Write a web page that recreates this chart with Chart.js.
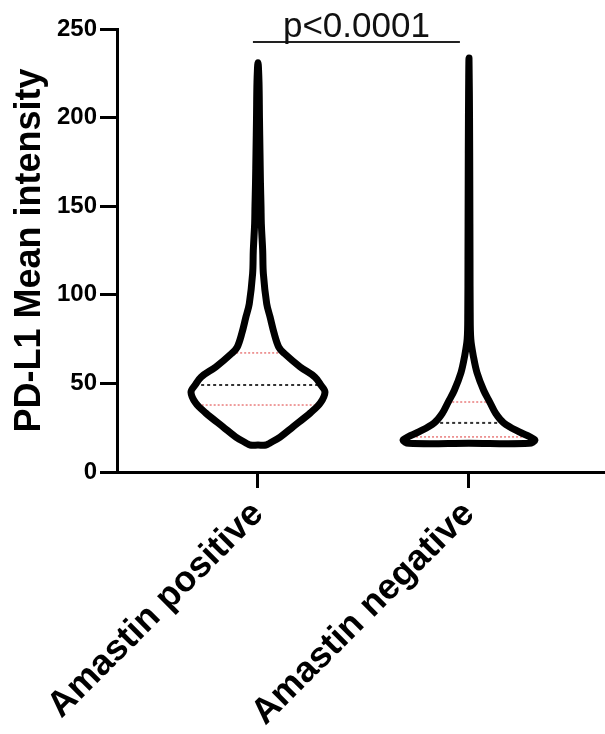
<!DOCTYPE html>
<html><head><meta charset="utf-8">
<script src="https://cdn.jsdelivr.net/npm/chart.js@4.4.0/dist/chart.umd.min.js"></script>
<style>html,body{margin:0;padding:0;background:#fff}canvas{display:block}</style>
</head><body>
<canvas id="c" width="605" height="734"></canvas>
<script>
// ---- data ----
const categories = ['Amastin positive', 'Amastin negative'];
const yTicks = [0, 50, 100, 150, 200, 250];
// violin outline: values (PD-L1) and relative density (half-width, max = 1)
const posValues  = [15.2, 16.4, 19.7, 25.4, 33.3, 38.9, 45.1, 49, 53.6, 59.3, 67, 70.5, 78.4, 87.5, 95, 112, 125, 140, 150, 163, 180, 200, 220, 231];
const posDensity = [0.12, 0.18, 0.33, 0.52, 0.78, 0.93, 1.0, 0.94, 0.85, 0.63, 0.39, 0.31, 0.24, 0.18, 0.13, 0.08, 0.07, 0.05, 0.045, 0.037, 0.03, 0.022, 0.015, 0];
const negValues  = [16.2, 18, 19.8, 22.6, 27.7, 33, 39.5, 46, 56, 65, 75, 90, 120, 160, 200, 233.6];
const negDensity = [0.9, 0.985, 0.91, 0.75, 0.52, 0.4, 0.31, 0.22, 0.12, 0.067, 0.027, 0.018, 0.015, 0.012, 0.008, 0];
// quartiles: Q1, median, Q3
const posQuartiles = [37.8, 49.1, 67.2];
const negQuartiles = [19.8, 27.7, 39.5];
const pValueLabel = 'p<0.0001';
const sigBarValue = 242.7;

// ---- layout constants ----
const FONT = '"Liberation Sans", Arial, Helvetica, sans-serif';
const HALF_W = 0.3175;         // max half width in category units
const SIG_FROM = 0.976, SIG_TO = 1.957;

function outline(center, vals, dens) {
  const pts = [{x: center, y: vals[0]}];
  for (let i = 0; i < vals.length; i++) pts.push({x: center - dens[i] * HALF_W, y: vals[i]});
  for (let i = vals.length - 2; i >= 0; i--) pts.push({x: center + dens[i] * HALF_W, y: vals[i]});
  pts.push({x: center, y: vals[0]});
  return pts;
}
function densAt(vals, dens, v) {
  for (let i = 0; i < vals.length - 1; i++) {
    if (v >= vals[i] && v <= vals[i + 1]) {
      const t = (v - vals[i]) / (vals[i + 1] - vals[i]);
      return dens[i] + t * (dens[i + 1] - dens[i]);
    }
  }
  return 0;
}
function qLine(center, vals, dens, v) {
  const hw = densAt(vals, dens, v) * HALF_W;
  return [{x: center - hw, y: v}, {x: center + hw, y: v}];
}

const groups = [
  {center: 1, vals: posValues, dens: posDensity, q: posQuartiles},
  {center: 2, vals: negValues, dens: negDensity, q: negQuartiles}
];

const datasets = [];
groups.forEach(g => {
  datasets.push({data: outline(g.center, g.vals, g.dens), borderColor: '#000', borderWidth: 7,
    tension: 0.35, borderJoinStyle: 'round', borderCapStyle: 'round', pointRadius: 0, showLine: true, clip: false});
});
groups.forEach(g => {
  datasets.push({data: qLine(g.center, g.vals, g.dens, g.q[1]), borderColor: '#333', borderWidth: 2,
    borderDash: [3, 3], pointRadius: 0, showLine: true});
  [g.q[0], g.q[2]].forEach(v => datasets.push({data: qLine(g.center, g.vals, g.dens, v),
    borderColor: 'rgba(225,80,80,0.75)', borderWidth: 1.5, borderDash: [2, 2], pointRadius: 0, showLine: true}));
});
datasets.push({data: [{x: SIG_FROM, y: sigBarValue}, {x: SIG_TO, y: sigBarValue}], borderColor: '#222',
  borderWidth: 2, pointRadius: 0, showLine: true, clip: false});

const sigText = {
  id: 'sigText',
  afterDatasetsDraw(chart) {
    const {ctx, scales: {x, y}} = chart;
    ctx.save();
    ctx.font = '35px ' + FONT;
    ctx.fillStyle = '#111';
    ctx.textAlign = 'center';
    ctx.textBaseline = 'alphabetic';
    ctx.fillText(pValueLabel, x.getPixelForValue((SIG_FROM + SIG_TO) / 2), y.getPixelForValue(sigBarValue) - 5);
    ctx.restore();
  }
};

new Chart(document.getElementById('c'), {
  type: 'scatter',
  data: {datasets},
  options: {
    responsive: false, animation: false, devicePixelRatio: 1,
    layout: {padding: {left: 0, top: 29, right: 0, bottom: 0}},
    plugins: {legend: {display: false}, tooltip: {enabled: false}},
    scales: {
      x: {
        type: 'linear', min: 0.3318, max: 2.6446,
        afterBuildTicks: s => { s.ticks = categories.map((c, i) => ({value: i + 1})); },
        afterFit: s => { s.height = 262; s.paddingLeft = 0; s.paddingRight = 0; },
        border: {display: true, color: '#000', width: 3},
        grid: {drawOnChartArea: false, drawTicks: true, tickLength: 16, tickWidth: 3, tickColor: '#000'},
        ticks: {autoSkip: false, minRotation: 45, maxRotation: 45, padding: 5, color: '#000',
          font: {family: FONT, size: 36, weight: 'bold'},
          callback: v => categories[Math.round(v) - 1] || ''}
      },
      y: {
        type: 'linear', min: 0, max: 250,
        afterBuildTicks: s => { s.ticks = yTicks.map(v => ({value: v})); },
        afterFit: s => { s.width = 117; s.paddingTop = 0; s.paddingBottom = 0; },
        border: {display: true, color: '#000', width: 3},
        grid: {drawOnChartArea: false, drawTicks: true, tickLength: 17, tickWidth: 3, tickColor: '#000'},
        ticks: {padding: 3, color: '#000', font: {family: FONT, size: 24, weight: 'bold'}},
        title: {display: true, text: 'PD-L1 Mean intensity', color: '#000', padding: {top: 8, bottom: 0},
          font: {family: FONT, size: 36, weight: 'bold'}}
      }
    }
  },
  plugins: [sigText]
});
</script>
</body></html>
